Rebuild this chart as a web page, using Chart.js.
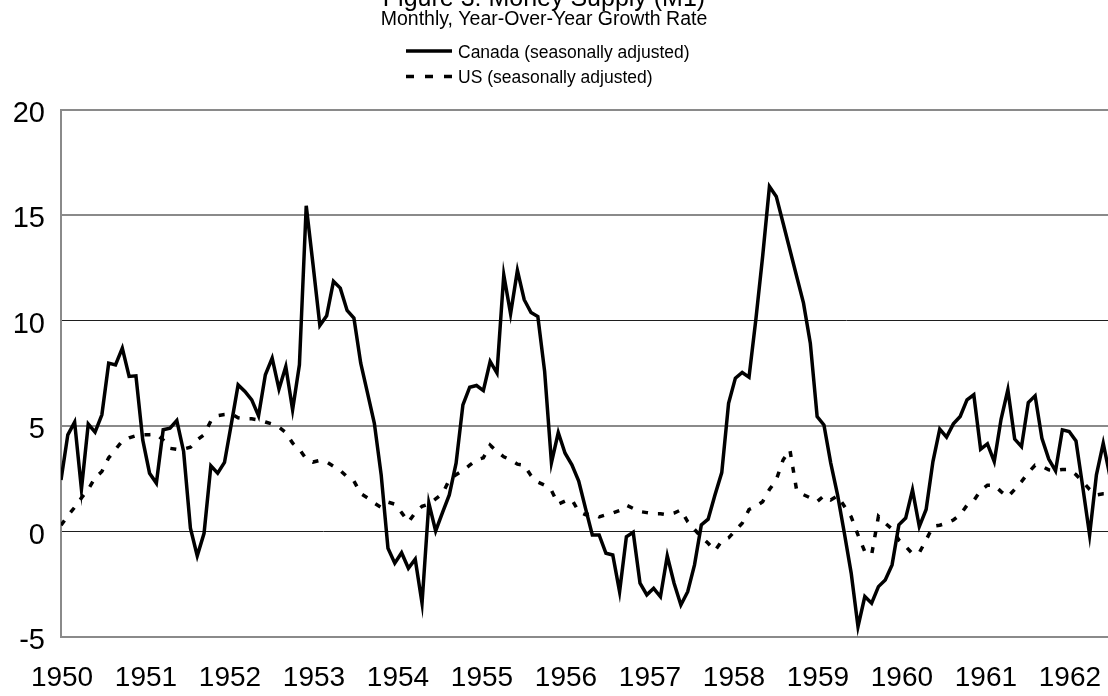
<!DOCTYPE html>
<html>
<head>
<meta charset="utf-8">
<title>Figure 3: Money Supply (M1)</title>
<script src="https://cdn.jsdelivr.net/npm/chart.js@4.4.1/dist/chart.umd.min.js"></script>
<style>
  html, body { margin: 0; padding: 0; background: #fff; overflow: hidden; }
  canvas { display: block; }
</style>
</head>
<body>
<canvas id="m1Chart" width="1108" height="696"></canvas>
<script>
const titleText = "Figure 3: Money Supply (M1)";
const subtitleText = "Monthly, Year-Over-Year Growth Rate";

// year labels along the bottom
const years = ["1950", "1951", "1952", "1953", "1954", "1955", "1956",
  "1957", "1958", "1959", "1960", "1961", "1962"];

const yTicks = [-5, 0, 5, 10, 15, 20];

// Canada M1, y/y growth, seasonally adjusted, monthly from Jan 1950
const canada = [
  2.45, 4.59, 5.19, 2.01, 5.10, 4.72, 5.54, 7.99, 7.91, 8.70,
  7.36, 7.39, 4.35, 2.77, 2.30, 4.83, 4.91, 5.27, 3.80, 0.16,
  -1.15, -0.08, 3.12, 2.77, 3.28, 5.10, 6.96, 6.65, 6.25, 5.49,
  7.44, 8.23, 6.76, 7.83, 5.78, 7.91, 15.46, 12.66, 9.78, 10.24,
  11.87, 11.55, 10.49, 10.13, 7.99, 6.57, 5.14, 2.7, -0.79, -1.50,
  -1.0, -1.74, -1.31, -3.40, 1.35, 0.03, 0.9, 1.74, 3.25, 6.01,
  6.85, 6.93, 6.69, 8.07, 7.52, 12.18, 10.33, 12.39, 11.0, 10.39,
  10.2, 7.59, 3.27, 4.70, 3.72, 3.17, 2.4, 1.1, -0.16, -0.16,
  -1.03, -1.11, -2.85, -0.24, -0.03, -2.45, -3.0, -2.69, -3.09, -1.15,
  -2.45, -3.48, -2.85, -1.58, 0.32, 0.59, 1.74, 2.8, 6.09, 7.28,
  7.55, 7.33, 10.05, 13.05, 16.37, 15.9, 14.64, 13.37, 12.1, 10.84,
  8.94, 5.46, 5.06, 3.25, 1.74, -0.08, -1.97, -4.51, -3.08, -3.40,
  -2.61, -2.29, -1.58, 0.32, 0.64, 1.98, 0.24, 1.05, 3.32, 4.86,
  4.48, 5.11, 5.46, 6.25, 6.49, 3.91, 4.16, 3.32, 5.33, 6.73,
  4.39, 4.03, 6.12, 6.44, 4.43, 3.44, 2.88, 4.83, 4.75, 4.30,
  2.1, -0.16, 2.69, 4.19, 2.6
];

// US M1, y/y growth, seasonally adjusted
const us = [
  0.3, 0.75, 1.15, 1.6, 2.0, 2.55, 2.85, 3.5, 3.9, 4.3,
  4.45, 4.55, 4.6, 4.6, 4.62, 4.35, 3.95, 3.9, 3.92, 4.0,
  4.35, 4.6, 5.25, 5.5, 5.55, 5.58, 5.4, 5.35, 5.35, 5.3,
  5.2, 5.1, 4.95, 4.7, 4.2, 3.9, 3.45, 3.3, 3.38, 3.3,
  3.1, 2.9, 2.6, 2.4, 1.8, 1.6, 1.35, 1.15, 1.4, 1.3,
  0.9, 0.45, 0.9, 1.2, 1.3, 1.55, 1.8, 2.45, 2.7, 2.9,
  3.15, 3.4, 3.5, 4.1, 3.8, 3.55, 3.4, 3.2, 3.15, 2.65,
  2.35, 2.2, 1.95, 1.3, 1.45, 1.52, 0.95, 0.8, 0.85, 0.7,
  0.8, 0.88, 1.0, 1.25, 1.1, 0.95, 0.9, 0.85, 0.85, 0.8,
  0.88, 1.03, 0.47, 0.1, -0.25, -0.55, -0.9, -0.45, -0.3, 0.05,
  0.4, 1.05, 1.2, 1.42, 2.0, 2.45, 3.4, 3.88, 1.95, 1.75,
  1.6, 1.42, 1.7, 1.5, 1.7, 1.2, 0.7, -0.16, -0.95, -1.1,
  0.72, 0.4, 0.12, -0.4, -0.7, -1.05, -1.0, -0.4, 0.25, 0.3,
  0.4, 0.55, 0.8, 1.25, 1.47, 1.95, 2.2, 2.2, 1.9, 1.65,
  2.0, 2.37, 2.8, 3.15, 3.1, 2.93, 2.9, 2.95, 2.95, 2.7,
  2.37, 2.0, 1.74, 1.79, 1.8
];

// month number from Jan 1950 (0 = Jan 1950)
const months = canada.map((_, i) => i);

// axis layout: the plot runs past the right edge of the picture
const xMax = 153.7;
const yearStep = 12.33;
const yearOffset = 0.15;

const FONT = "'Liberation Sans', Arial, Helvetica, sans-serif";
Chart.defaults.font.family = FONT;
Chart.defaults.color = "#000";

// title, subtitle and the stacked legend above the plot
const headerPlugin = {
  id: "header",
  afterDraw(chart) {
    const ctx = chart.ctx;
    const cx = 544;
    ctx.save();
    ctx.fillStyle = "#000";
    ctx.textBaseline = "alphabetic";
    ctx.textAlign = "center";
    ctx.font = "25px " + FONT;
    ctx.fillText(titleText, cx, 6);
    ctx.font = "19.5px " + FONT;
    ctx.fillText(subtitleText, cx, 25);

    ctx.textAlign = "left";
    ctx.font = "17.5px " + FONT;
    const lx = 406;
    chart.data.datasets.forEach((ds, i) => {
      const y = 51 + i * 25.5;
      ctx.strokeStyle = ds.borderColor;
      ctx.lineWidth = ds.borderWidth;
      ctx.setLineDash(ds.borderDash.length ? [8, 11] : []);
      ctx.beginPath();
      ctx.moveTo(lx, y);
      ctx.lineTo(lx + 46, y);
      ctx.stroke();
      ctx.fillText(ds.label, lx + 52, y + 6.5);
    });
    ctx.restore();
  }
};

new Chart(document.getElementById("m1Chart"), {
  type: "line",
  data: {
    labels: months,
    datasets: [
      {
        label: "Canada (seasonally adjusted)",
        data: canada,
        borderColor: "#000",
        borderWidth: 3.5,
        borderDash: [],
        pointRadius: 0,
        tension: 0,
      },
      {
        label: "US (seasonally adjusted)",
        data: us,
        borderColor: "#000",
        borderWidth: 3.5,
        borderDash: [6, 10],
        pointRadius: 0,
        tension: 0,
      },
    ],
  },
  options: {
    responsive: false,
    animation: false,
    devicePixelRatio: 1,
    layout: { padding: { top: 110, left: 0, right: 0, bottom: 0 } },
    plugins: {
      legend: { display: false },
      title: { display: false },
      tooltip: { enabled: false },
    },
    scales: {
      x: {
        type: "linear",
        min: 0,
        max: xMax,
        grid: { display: false, drawTicks: false },
        border: { display: false },
        afterFit: (scale) => {
          scale.height = 59;
          // let the plot reach the edge; labels need no side padding here
          scale.paddingLeft = 0;
          scale.paddingRight = 0;
        },
        afterBuildTicks: (scale) => {
          scale.ticks = years.map((_, k) => ({ value: yearOffset + k * yearStep }));
        },
        ticks: {
          autoSkip: false,
          maxRotation: 0,
          padding: 24,
          font: { size: 28 },
          callback: (value, index) => years[index],
        },
      },
      y: {
        min: yTicks[0],
        max: yTicks[yTicks.length - 1],
        afterFit: (scale) => { scale.width = 61; },
        afterBuildTicks: (scale) => { scale.ticks = yTicks.map((v) => ({ value: v })); },
        border: { display: true, color: "#8a8a8a", width: 2 },
        grid: {
          drawTicks: false,
          color: (c) => ([0, 10].includes(c.tick.value) ? "#1e1e1e" : "#8a8a8a"),
          lineWidth: (c) => ([0, 10].includes(c.tick.value) ? 1 : 2),
        },
        ticks: { padding: 16, labelOffset: 4, font: { size: 29 } },
      },
    },
  },
  plugins: [headerPlugin],
});
</script>
</body>
</html>
